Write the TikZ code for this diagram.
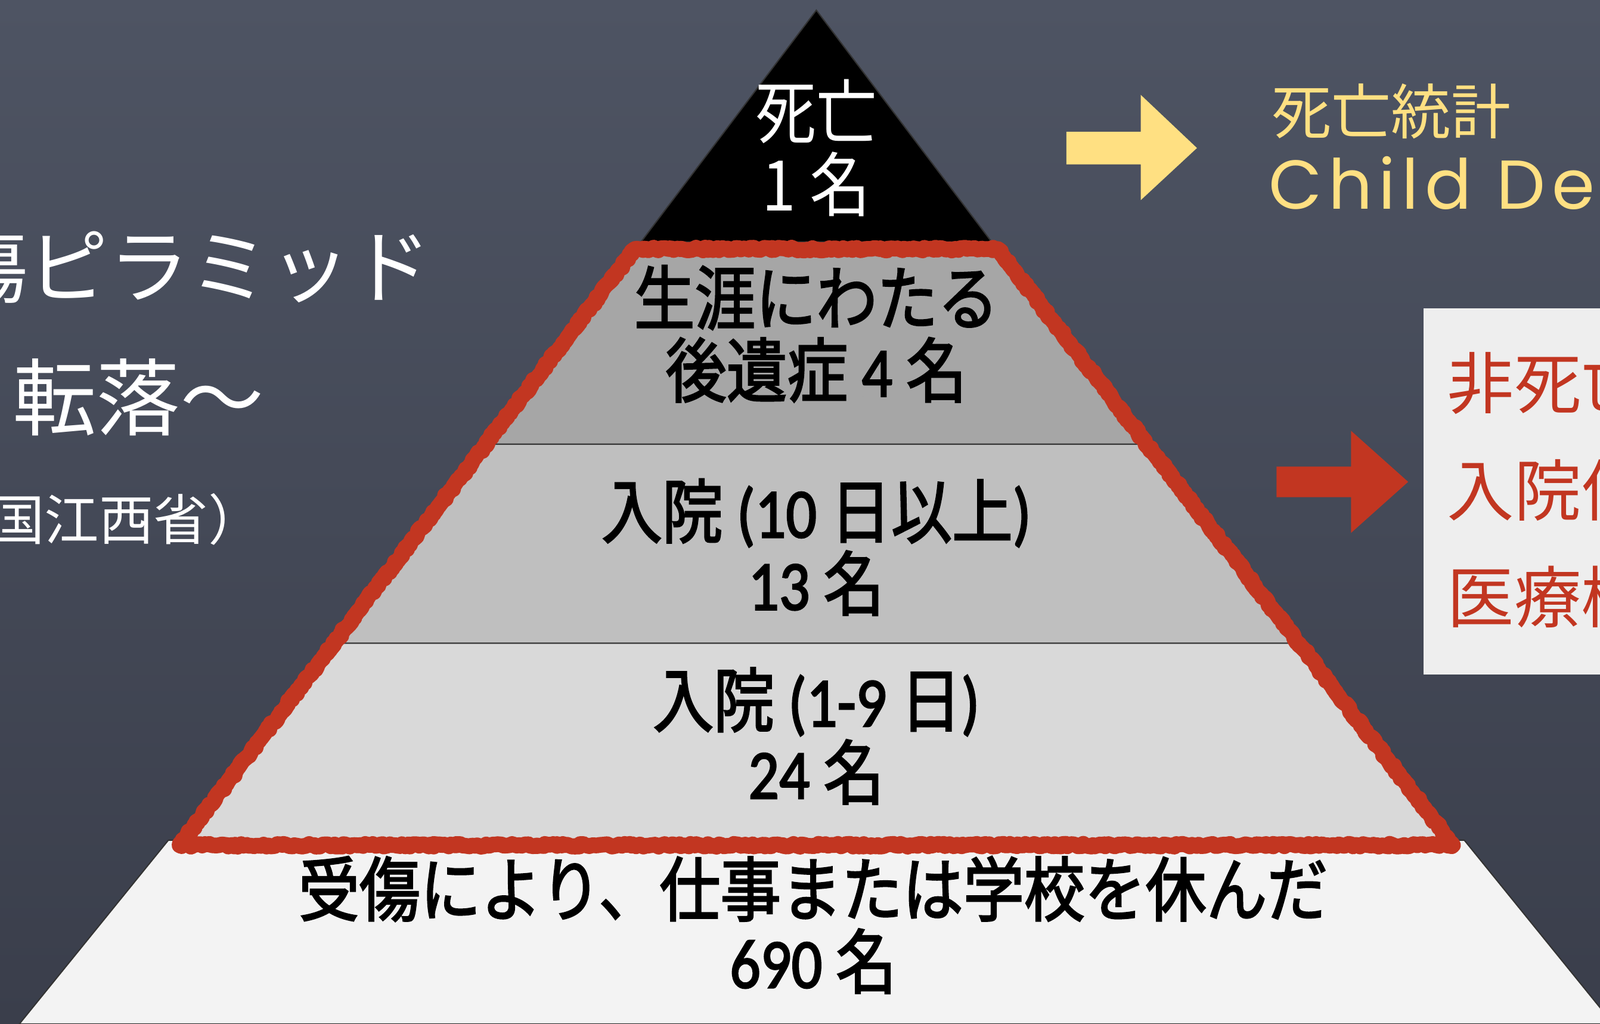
\documentclass[tikz,border=0pt]{standalone}
\usepackage{fontspec}
\setmainfont{Carlito}
\newfontfamily\jp{Noto Sans CJK JP}
\newfontfamily\jpm[FakeBold=2.5]{Noto Sans CJK JP}
\newfontfamily\numf[FakeBold=2.5]{Carlito}
\newfontfamily\chalk[LetterSpace=9]{Poppins}
\usetikzlibrary{decorations,decorations.pathmorphing}

\definecolor{boardtop}{RGB}{78,84,99}
\definecolor{boardbot}{RGB}{58,62,75}
\definecolor{chalkred}{RGB}{194,54,33}
\definecolor{chalkyellow}{RGB}{255,224,130}
\definecolor{tierA}{RGB}{166,166,166}
\definecolor{tierB}{RGB}{191,191,191}
\definecolor{tierC}{RGB}{217,217,217}
\definecolor{tierD}{RGB}{243,243,243}
\definecolor{boxwhite}{RGB}{238,238,238}

\begin{document}
\begin{tikzpicture}[x=0.01712cm,y=-0.01712cm]
	\tikzstyle{every node}=[inner sep=0pt]
	\tikzstyle{tierline}=[draw=black!80, line width=0.6pt]
	\tikzstyle{tierlabel}=[font=\numf\fontsize{29}{30}\selectfont, align=center, yscale=1.15, transform shape]
	\tikzstyle{titletext}=[white, anchor=west]
	\tikzstyle{redtext}=[chalkred, anchor=west, font=\jp\fontsize{32}{34}\selectfont]
	\tikzstyle{chalkline}=[draw=chalkred, line width=6.5pt, line join=round]
	\tikzstyle{chalkedge}=[draw=chalkred, line width=7.5pt, line join=round, decorate, decoration={random steps, segment length=1.2pt, amplitude=0.7pt}]

	\useasboundingbox (0,0) rectangle (1568,1003);
	\clip (0,0) rectangle (1568,1003);
	\shade [top color=boardtop, bottom color=boardbot] (0,0) rectangle (1568,1003);

	%% pyramid tiers
	\draw [tierline, fill=tierD] (165,823) -- (1435,823) -- (1581,1003) -- (19,1003) -- cycle;
	\draw [tierline, fill=tierC] (330.7,630) -- (1269.3,630) -- (1414.7,822) -- (185.3,822) -- cycle;
	\draw [tierline, fill=tierB] (478.3,435) -- (1121.7,435) -- (1269.3,630) -- (330.7,630) -- cycle;
	\draw [tierline, fill=tierA] (628.2,237) -- (971.8,237) -- (1121.7,435) -- (478.3,435) -- cycle;
	\draw [tierline, fill=black] (800,10) -- (971.8,237) -- (628.2,237) -- cycle;

	%% red chalk outline
	\draw [chalkline] (622,244) -- (978,244) -- (1424,828) -- (176,828) -- cycle;
	\draw [chalkedge] (622,244) -- (978,244) -- (1424,828) -- (176,828) -- cycle;

	%% tier texts
	\node [tierlabel, white, font=\jp\fontsize{29}{30}\selectfont] (death) at (800,145) {死亡\\1 名};
	\node [tierlabel] (lifelong) at (800,327) {{\jpm 生涯にわたる}\\{\jpm 後遺症} 4 {\jpm 名}};
	\node [tierlabel] (hosplong) at (800,536) {{\jpm 入院} (10 {\jpm 日以上})\\13 {\jpm 名}};
	\node [tierlabel] (hospshort) at (800,721) {{\jpm 入院} (1-9 {\jpm 日})\\24 {\jpm 名}};
	\node [tierlabel] (absent) at (797,906) {{\jpm 受傷により、仕事または学校を休んだ}\\690 {\jpm 名}};

	%% left titles
	\node [titletext, font=\jp\fontsize{38.5}{40}\selectfont] (ttlpyr) at (-52,261) {傷ピラミッド};
	\node [titletext, font=\jp\fontsize{40}{42}\selectfont] (ttlfall) at (12,389) {転落〜};
	\node [titletext, font=\jp\fontsize{26}{28}\selectfont] (ttlplace) at (-10,509) {国江西省）};

	%% right side
	\fill [chalkyellow] (1045,129) -- (1118,129) -- (1118,93) -- (1173,145) -- (1118,196) -- (1118,161) -- (1045,161) -- cycle;
	\node [chalkyellow, anchor=west, font=\jp\fontsize{28.5}{30}\selectfont] (stats) at (1246,109) {死亡統計};
	\node [chalkyellow, anchor=base west, font=\chalk\fontsize{33}{36}\selectfont] (cdr) at (1243,205) {Child De};

	\fill [chalkred] (1251,457) -- (1324,457) -- (1324,422) -- (1380,472) -- (1324,522) -- (1324,487) -- (1251,487) -- cycle;
	\fill [boxwhite] (1395,302) rectangle (1580,661);
	\node [redtext] (nonfatal) at (1418,375) {非死亡};
	\node [redtext] (admit) at (1418,480) {入院件};
	\node [redtext] (medical) at (1418,585) {医療機};

\end{tikzpicture}
\end{document}
